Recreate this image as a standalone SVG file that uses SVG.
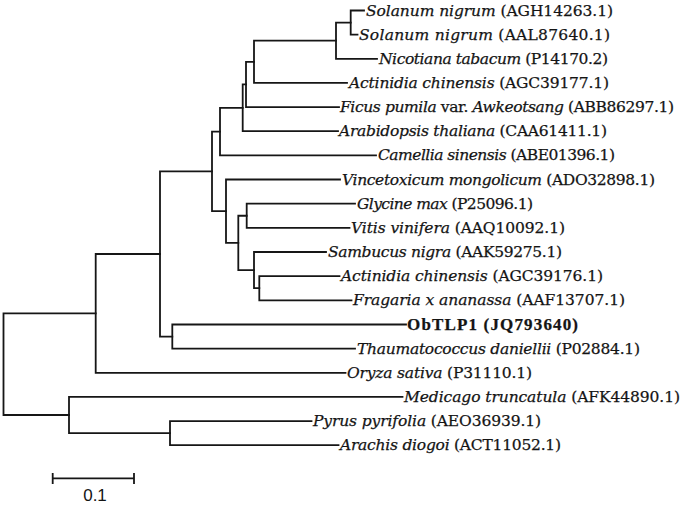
<svg xmlns="http://www.w3.org/2000/svg" width="685" height="506" viewBox="0 0 685 506">
<style>
.br{fill:none;stroke:#161616;stroke-width:1.8;stroke-linecap:square}
.lb{font-family:"DejaVu Serif","Liberation Serif",serif;font-size:15.5px;fill:#141414;stroke:#141414;stroke-width:0.25}
.sp{font-style:italic}
.bd{font-weight:bold;font-family:"Liberation Serif",serif;font-size:17px}
.sc{font-family:"Liberation Sans",sans-serif;font-size:17px;fill:#141414}
</style>
<rect width="685" height="506" fill="#fff"/>
<g id="connectors">
<path class="br" d="M364 10.5H350.7V34.6H357.5"/>
<path class="br" d="M350.7 22.55H336V58.8H377"/>
<path class="br" d="M336 40.7H254V82.9H347"/>
<path class="br" d="M254 61.8H246V107.1H339"/>
<path class="br" d="M246 84.45H242.7V131.2H338"/>
<path class="br" d="M242.7 107.8H220V155.4H376"/>
<path class="br" d="M355 203.7H246.7V227.8H349.5"/>
<path class="br" d="M339.5 276.1H259.3V300.3H351.5"/>
<path class="br" d="M326 252H254V288.2H259.3"/>
<path class="br" d="M246.7 215.75H238.3V270.1H254"/>
<path class="br" d="M340 179.5H226V242.9H238.3"/>
<path class="br" d="M220 131.6H212V211.2H226"/>
<path class="br" d="M406 324.5H172.3V348.6H355"/>
<path class="br" d="M212 171.4H160V336.55H172.3"/>
<path class="br" d="M160 254H95.7V372.8H345.5"/>
<path class="br" d="M311.5 421.1H170V445.2H338.5"/>
<path class="br" d="M402.5 396.9H69V433.15H170"/>
<path class="br" d="M95.7 313.4H3.5V415H69"/>
</g>
<g id="leaf1"><text class="lb" x="366" y="15.5" textLength="247"><tspan class="sp">Solanum nigrum</tspan> (AGH14263.1)</text></g>
<g id="leaf2"><text class="lb" x="359" y="39.6" textLength="251"><tspan class="sp">Solanum nigrum</tspan> (AAL87640.1)</text></g>
<g id="leaf3"><text class="lb" x="379" y="63.8" textLength="229"><tspan class="sp">Nicotiana tabacum</tspan> (P14170.2)</text></g>
<g id="leaf4"><text class="lb" x="349" y="87.9" textLength="260"><tspan class="sp">Actinidia chinensis</tspan> (AGC39177.1)</text></g>
<g id="leaf5"><text class="lb" x="340" y="112.1" textLength="334"><tspan class="sp">Ficus pumila</tspan> var. <tspan class="sp">Awkeotsang</tspan> (ABB86297.1)</text></g>
<g id="leaf6"><text class="lb" x="339" y="136.2" textLength="268"><tspan class="sp">Arabidopsis thaliana</tspan> (CAA61411.1)</text></g>
<g id="leaf7"><text class="lb" x="378" y="160.4" textLength="237"><tspan class="sp">Camellia sinensis</tspan> (ABE01396.1)</text></g>
<g id="leaf8"><text class="lb" x="342" y="184.5" textLength="313"><tspan class="sp">Vincetoxicum mongolicum</tspan> (ADO32898.1)</text></g>
<g id="leaf9"><text class="lb" x="357" y="208.7" textLength="176"><tspan class="sp">Glycine max</tspan> (P25096.1)</text></g>
<g id="leaf10"><text class="lb" x="351" y="232.8" textLength="214"><tspan class="sp">Vitis vinifera</tspan> (AAQ10092.1)</text></g>
<g id="leaf11"><text class="lb" x="328" y="257" textLength="234"><tspan class="sp">Sambucus nigra</tspan> (AAK59275.1)</text></g>
<g id="leaf12"><text class="lb" x="341" y="281.1" textLength="262"><tspan class="sp">Actinidia chinensis</tspan> (AGC39176.1)</text></g>
<g id="leaf13"><text class="lb" x="353" y="305.3" textLength="272"><tspan class="sp">Fragaria x ananassa</tspan> (AAF13707.1)</text></g>
<g id="leaf14"><text class="lb bd" x="407" y="329.5" textLength="171">ObTLP1 (JQ793640)</text></g>
<g id="leaf15"><text class="lb" x="357" y="353.6" textLength="283"><tspan class="sp">Thaumatococcus daniellii</tspan> (P02884.1)</text></g>
<g id="leaf16"><text class="lb" x="347" y="377.8" textLength="185"><tspan class="sp">Oryza sativa</tspan> (P31110.1)</text></g>
<g id="leaf17"><text class="lb" x="404" y="401.9" textLength="276"><tspan class="sp">Medicago truncatula</tspan> (AFK44890.1)</text></g>
<g id="leaf18"><text class="lb" x="313" y="426.1" textLength="228"><tspan class="sp">Pyrus pyrifolia</tspan> (AEO36939.1)</text></g>
<g id="leaf19"><text class="lb" x="340" y="450.2" textLength="221"><tspan class="sp">Arachis diogoi</tspan> (ACT11052.1)</text></g>
<g id="scale">
<path class="br" d="M52.7 478.3H134M52.7 474V483M134 474V483"/>
<text class="sc" x="95" y="501" text-anchor="middle">0.1</text>
</g>
</svg>
